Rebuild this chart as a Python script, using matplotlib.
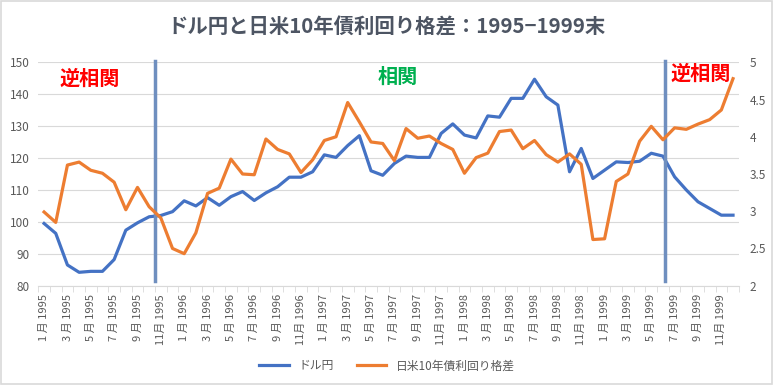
import matplotlib
matplotlib.use("Agg")
import matplotlib.pyplot as plt
import numpy as np

plt.rcParams['font.family'] = ['Noto Sans CJK JP', 'DejaVu Sans']

years = [1995, 1996, 1997, 1998, 1999]
months = list(range(1, 13))
labels = [f"{m} 月 {y}" if m < 10 else f"{m}月 {y}" for y in years for m in months]

usdjpy = [99.5, 96.4, 86.5, 84.2, 84.5, 84.5, 88.2, 97.4, 99.7, 101.6,
          102.0, 103.2, 106.6, 105.0, 107.6, 105.2, 107.9, 109.5, 106.7, 109.1,
          111.0, 114.0, 114.0, 115.7, 121.0, 120.2, 123.9, 127.0, 116.0, 114.6,
          118.3, 120.6, 120.2, 120.2, 127.7, 130.7, 127.2, 126.3, 133.2, 132.8,
          138.7, 138.7, 144.7, 139.2, 136.6, 115.7, 123.0, 113.6, 116.2, 118.8,
          118.6, 119.0, 121.5, 120.6, 114.1, 110.0, 106.3, 104.2, 102.1, 102.1]

spread = [2.99, 2.85, 3.62, 3.66, 3.55, 3.51, 3.39, 3.02, 3.32, 3.06,
          2.91, 2.50, 2.43, 2.71, 3.24, 3.31, 3.70, 3.50, 3.49, 3.97,
          3.83, 3.77, 3.52, 3.69, 3.95, 4.00, 4.46, 4.20, 3.93, 3.91,
          3.68, 4.11, 3.98, 4.01, 3.91, 3.83, 3.51, 3.72, 3.78, 4.07,
          4.09, 3.84, 3.95, 3.76, 3.66, 3.77, 3.63, 2.62, 2.63, 3.40,
          3.50, 3.94, 4.14, 3.96, 4.12, 4.10, 4.17, 4.23, 4.36, 4.78]

series_names = ["ドル円", "日米10年債利回り格差"]
title = "ドル円と日米10年債利回り格差：1995−1999末"
regime_labels = ["逆相関", "相関", "逆相関"]
divider_positions = [9.5, 53.15]

BLUE = "#4472c4"
ORANGE = "#ed7d31"
GRAY = "#595959"

fig = plt.figure(figsize=(7.74, 3.85), dpi=100)
ax = fig.add_axes([0.0494, 0.2579, 0.9052, 0.5803])
ax2 = ax.twinx()

x = np.arange(len(labels))
l1, = ax.plot(x, usdjpy, color=BLUE, lw=2.3, solid_joinstyle='round', zorder=3)
l2, = ax2.plot(x, spread, color=ORANGE, lw=2.3, solid_joinstyle='round', zorder=3)

ax.set_xlim(-0.5, len(labels) - 0.5)
ax.set_ylim(80, 150)
ax.set_yticks(np.arange(80, 151, 10))
ax2.set_ylim(2, 5)
ax2.set_yticks(np.arange(2, 5.01, 0.5))
ax2.set_yticklabels(["2", "2.5", "3", "3.5", "4", "4.5", "5"])

ax.grid(axis='y', color="#d9d9d9", lw=0.8)
ax.set_axisbelow(True)
for a in (ax, ax2):
    for s in ('top', 'left', 'right'):
        a.spines[s].set_visible(False)
    a.spines['bottom'].set_color("#d9d9d9")
ax2.spines['bottom'].set_visible(False)

ax.tick_params(axis='y', length=0, labelsize=8.5, labelcolor=GRAY, pad=6)
ax2.tick_params(axis='y', length=0, labelsize=8.5, labelcolor=GRAY, pad=8)

# category boundary ticks
ax.set_xticks(np.arange(-0.5, len(labels), 1), minor=True)
ax.tick_params(axis='x', which='minor', length=4, color="#d9d9d9")
ax.set_xticks(x[::2])
ax.set_xticklabels(labels[::2], rotation=90, fontsize=8, color=GRAY)
ax.tick_params(axis='x', which='major', length=0, pad=6)

# divider lines
for p in divider_positions:
    ax.plot([p, p], [150.3, 81.5], color="#6f8fbf", lw=2.5, zorder=4, clip_on=False)

ax.text(3.94, 144.9, regime_labels[0], color="#ff0000", fontsize=14.5, fontweight='bold',
        ha='center', va='center')
ax.text(30.27, 145.5, regime_labels[1], color="#00b050", fontsize=14.5, fontweight='bold',
        ha='center', va='center')
ax.text(56.25, 146.5, regime_labels[2], color="#ff0000", fontsize=14.5, fontweight='bold',
        ha='center', va='center')

fig.text(0.5, 0.93, title, ha='center', va='center', fontsize=14.7, fontweight='bold',
         color="#4d5563")

fig.legend([l1, l2], series_names, loc='center', bbox_to_anchor=(0.5, 0.05), ncol=2,
           frameon=False, fontsize=8.5, labelcolor=GRAY, handlelength=2.5, columnspacing=2.0)

fig.patches.append(matplotlib.patches.Rectangle((0.001, 0.002), 0.997, 0.995,
                   transform=fig.transFigure, fill=False, edgecolor="#d9d9d9", lw=1.2))

fig.savefig("out.png", dpi=100, facecolor='white')
